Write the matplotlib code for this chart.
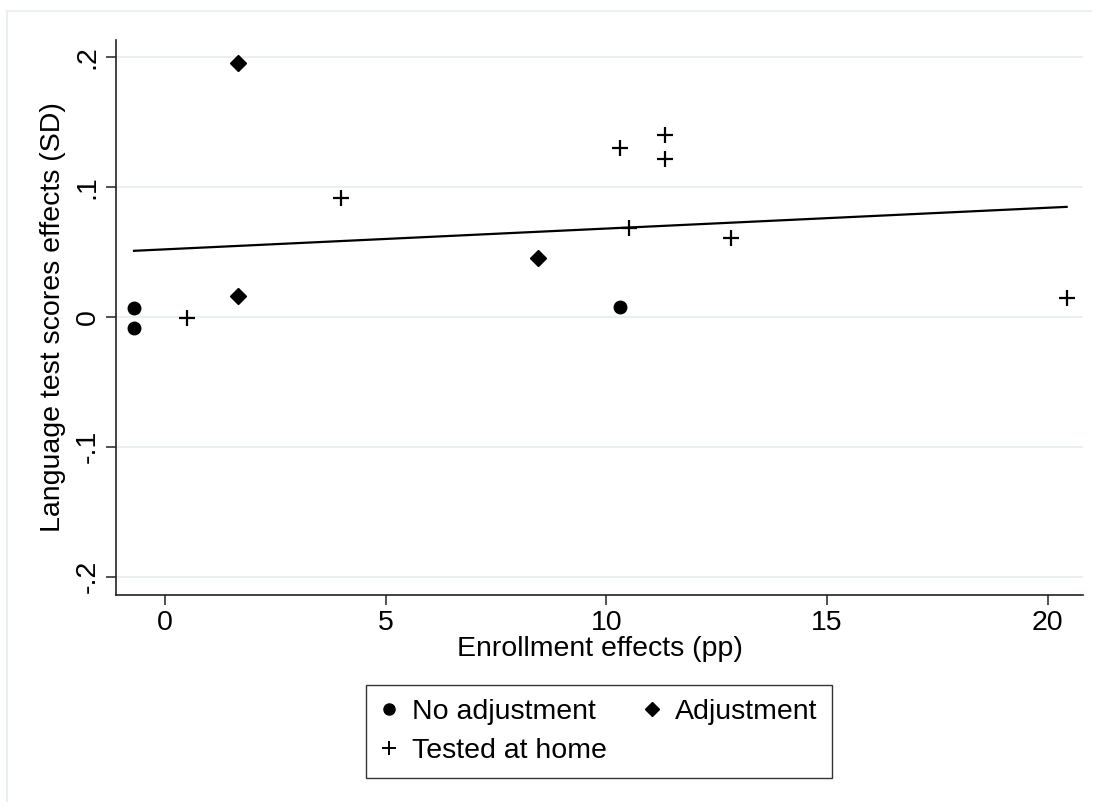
import numpy as np
import matplotlib.pyplot as plt
from matplotlib.lines import Line2D

plt.rcParams["font.family"] = ["Liberation Sans", "DejaVu Sans"]

# enrollment effects (pp) and language test score effects (SD)
no_adj_x = [-0.70, -0.70, 10.32]
no_adj_y = [0.007, -0.0085, 0.0077]

adj_x = [1.66, 1.66, 8.46]
adj_y = [0.195, 0.016, 0.045]

home_x = [0.50, 3.99, 10.32, 11.32, 11.32, 10.52, 12.83, 20.43]
home_y = [-0.001, 0.0915, 0.130, 0.140, 0.1215, 0.0685, 0.061, 0.0146]

# fitted line end points
fit_x = [-0.70, 20.43]
fit_y = [0.0508, 0.0846]

x_ticks = [0, 5, 10, 15, 20]
y_ticks = [-0.2, -0.1, 0, 0.1, 0.2]
y_tick_labels = ["-.2", "-.1", "0", ".1", ".2"]

fig = plt.figure(figsize=(10.98, 8.09), dpi=100)
ax = fig.add_axes([0.1056, 0.2645, 0.8807, 0.6861])

# faint outer frame like the stata graph region
fig.add_artist(Line2D([0.006, 0.994], [0.986, 0.986], transform=fig.transFigure,
                      color="#e8f0f2", lw=1.5))
fig.add_artist(Line2D([0.006, 0.006], [0.986, 0.01], transform=fig.transFigure,
                      color="#e8f0f2", lw=1.5))

for yt in y_ticks:
    ax.axhline(yt, color="#e6eff1", lw=1.3, zorder=0)

ax.plot(fit_x, fit_y, color="black", lw=1.6, zorder=2)
ax.plot(no_adj_x, no_adj_y, "o", color="black", ms=9, zorder=3)
ax.plot(adj_x, adj_y, "D", color="black", ms=8.5, zorder=3)
ax.plot(home_x, home_y, "+", color="black", ms=11, mew=1.6, zorder=3)

ax.set_xlim(-1.11, 20.8)
ax.set_ylim(-0.214, 0.213)
ax.set_xticks(x_ticks)
ax.set_yticks(y_ticks)
ax.set_yticklabels(y_tick_labels, rotation=90, va="center")

for s in ["top", "right"]:
    ax.spines[s].set_visible(False)
for s in ["left", "bottom"]:
    ax.spines[s].set_linewidth(1.2)
    ax.spines[s].set_color("#222222")

ax.tick_params(axis="both", labelsize=20.5, length=7, width=1.2, color="#333333", pad=4)
ax.set_xlabel("Enrollment effects (pp)", fontsize=20.5, labelpad=0)
ax.set_ylabel("Language test scores effects (SD)", fontsize=20.5, labelpad=6)

handles = [
    Line2D([], [], marker="o", ls="", color="black", ms=8),
    Line2D([], [], marker="+", ls="", color="black", ms=10, mew=1.4),
    Line2D([], [], marker="D", ls="", color="black", ms=7.5),
]
labels = ["No adjustment", "Tested at home", "Adjustment"]
leg = fig.legend(handles, labels, loc="center", bbox_to_anchor=(0.5455, 0.0958),
                 ncol=2, fontsize=20.5, frameon=True, fancybox=False,
                 handletextpad=0.5, handlelength=0.6, columnspacing=1.3,
                 borderpad=0.5, labelspacing=0.45, borderaxespad=0)
leg.get_frame().set_edgecolor("black")
leg.get_frame().set_linewidth(1.0)

fig.savefig("out.png", dpi=100)
